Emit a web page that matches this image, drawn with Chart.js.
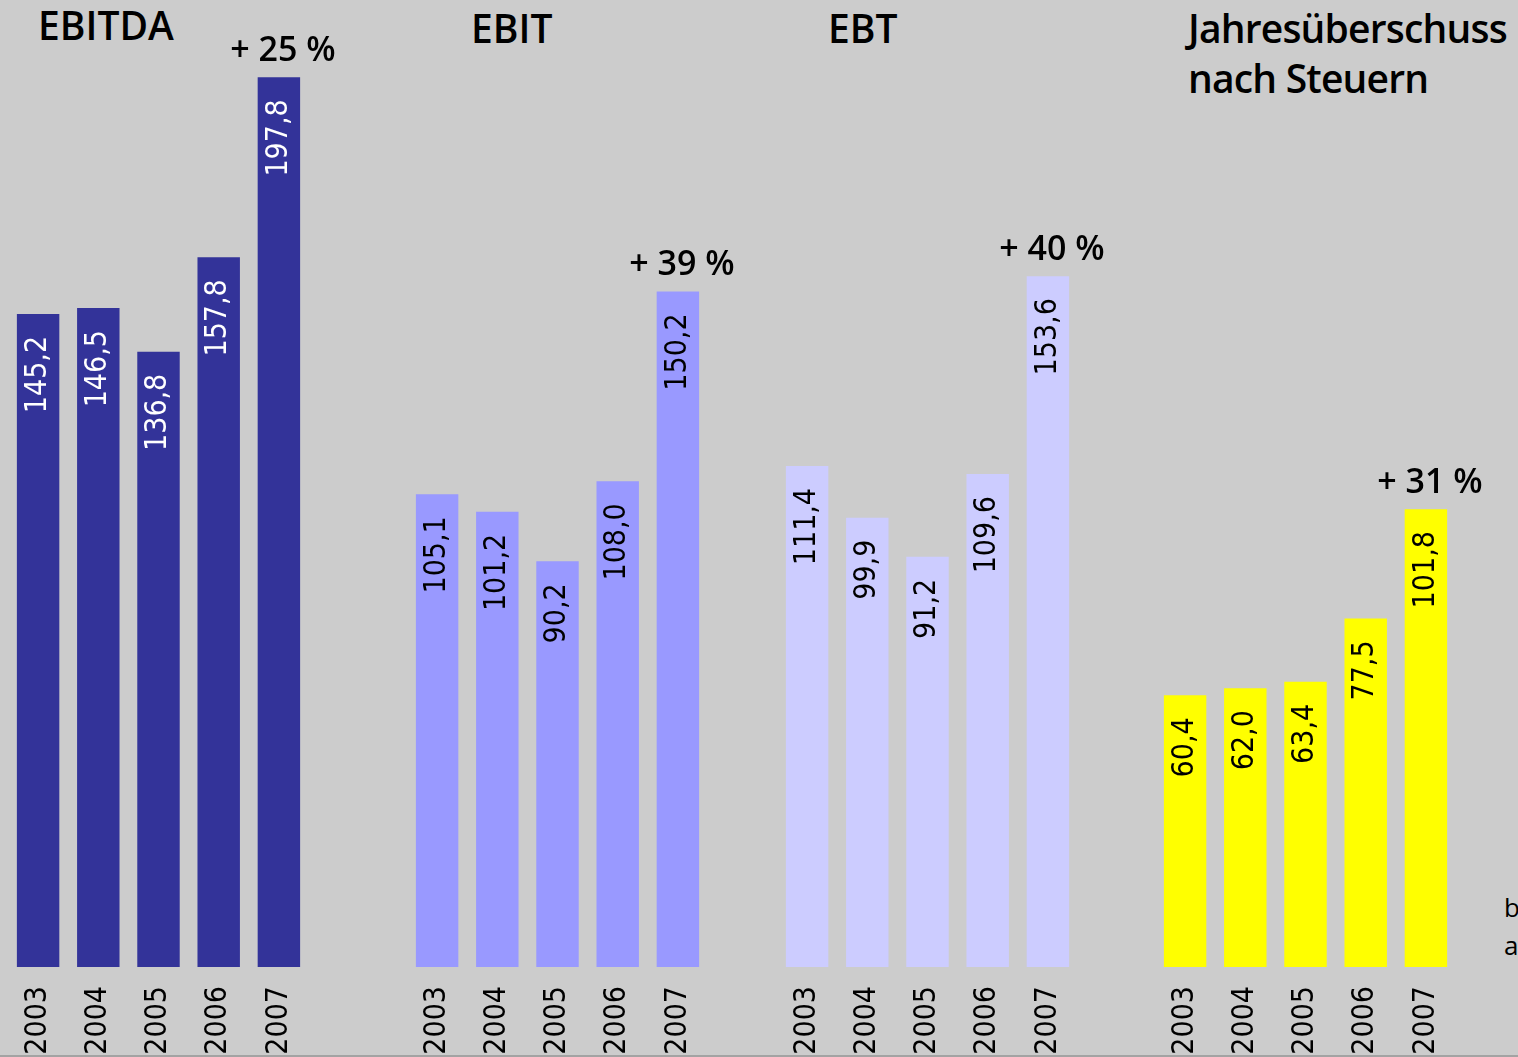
<!DOCTYPE html>
<html lang="de">
<head>
<meta charset="utf-8">
<title>Ergebnisentwicklung 2003 - 2007</title>
<script src="https://cdn.jsdelivr.net/npm/chart.js@4.4.1/dist/chart.umd.min.js"></script>
<style>
  html, body { margin: 0; padding: 0; }
  body {
    width: 1518px; height: 1057px; overflow: hidden; position: relative;
    background: #cccccc;
  }
  canvas { position: absolute; top: 0; }
  .title {
    position: absolute; font-family: "Open Sans", sans-serif; font-weight: 600;
    font-size: 39px; line-height: 50px; color: #000; white-space: pre;
  }
  .cut {
    position: absolute; left: 1504px; top: 888px; font-family: "Open Sans", sans-serif;
    font-size: 26px; line-height: 38px; color: #000; white-space: pre;
  }
  .baseline {
    position: absolute; left: 0; top: 1055px; width: 1518px; height: 2px; background: #a3a3a3;
  }
</style>
</head>
<body>

<div class="title" style="left:38px; top:0px;">EBITDA</div>
<div class="title" style="left:471px; top:3px;">EBIT</div>
<div class="title" style="left:828px; top:3px;">EBT</div>
<div class="title" style="left:1188px; top:3px; letter-spacing:-0.8px;">Jahresüberschuss
nach Steuern</div>
<div class="cut">b
a</div>

<canvas id="c1" width="381" height="1057" style="left:-12px"></canvas>
<canvas id="c2" width="381" height="1057" style="left:387px"></canvas>
<canvas id="c3" width="381" height="1057" style="left:757px"></canvas>
<canvas id="c4" width="381" height="1057" style="left:1135px"></canvas>
<div class="baseline"></div>

<script>
// Daten (Mio. EUR)
const years = ['2003', '2004', '2005', '2006', '2007'];
const ebitda = [145.2, 146.5, 136.8, 157.8, 197.8];
const ebit = [105.1, 101.2, 90.2, 108.0, 150.2];
const ebt = [111.4, 99.9, 91.2, 109.6, 153.6];
const jahresueberschuss = [60.4, 62.0, 63.4, 77.5, 101.8];
const growth = ['+ 25 %', '+ 39 %', '+ 40 %', '+ 31 %'];

const labelFont = '"DejaVu Sans Condensed", "DejaVu Sans", sans-serif';

// Ein Diagramm pro Kennzahl, gleiche Y-Skala
const panels = [
    { id: 'c1', data: ebitda, color: '#333399', text: '#ffffff', growth: growth[0] },
    { id: 'c2', data: ebit, color: '#9999ff', text: '#000000', growth: growth[1] },
    { id: 'c3', data: ebt, color: '#ccccff', text: '#000000', growth: growth[2] },
    { id: 'c4', data: jahresueberschuss, color: '#ffff00', text: '#000000', growth: growth[3] }
];

// Werte senkrecht in die Balken schreiben + Wachstum über dem letzten Balken
const barLabels = {
    id: 'barLabels',
    afterDatasetsDraw(chart, args, opts) {
        const ctx = chart.ctx;
        const meta = chart.getDatasetMeta(0);
        const values = chart.data.datasets[0].data;

        ctx.save();
        ctx.font = '30px ' + labelFont;
        ctx.fillStyle = opts.color;
        ctx.textAlign = 'right';
        ctx.textBaseline = 'middle';
        meta.data.forEach((bar, i) => {
            ctx.save();
            ctx.translate(bar.x, bar.y + 22);
            ctx.rotate(-Math.PI / 2);
            ctx.fillText(values[i].toFixed(1).replace('.', ','), 0, 0);
            ctx.restore();
        });

        const last = meta.data[meta.data.length - 1];
        ctx.font = '600 34px "Open Sans", sans-serif';
        ctx.fillStyle = '#000';
        ctx.textAlign = 'center';
        ctx.textBaseline = 'alphabetic';
        ctx.fillText(opts.growth, last.x + 4, last.y - 16);
        ctx.restore();
    }
};

panels.forEach(p => {
    new Chart(document.getElementById(p.id), {
        type: 'bar',
        data: {
            labels: years,
            datasets: [{
                data: p.data,
                backgroundColor: p.color,
                borderWidth: 0,
                categoryPercentage: 1,
                barPercentage: 0.705
            }]
        },
        options: {
            responsive: false,
            animation: false,
            devicePixelRatio: 1,
            layout: { padding: { left: 20, right: 60, top: 0, bottom: 0 } },
            scales: {
                x: {
                    grid: { display: false },
                    border: { display: false },
                    ticks: {
                        color: '#000',
                        font: { family: labelFont, size: 30 },
                        minRotation: 90,
                        maxRotation: 90,
                        autoSkip: false,
                        padding: 11
                    },
                    afterFit: (scale) => { scale.height = 90; }
                },
                y: { display: false, min: 0, max: 215 }
            },
            plugins: {
                legend: { display: false },
                tooltip: { enabled: false },
                barLabels: { color: p.text, growth: p.growth }
            }
        },
        plugins: [barLabels]
    });
});
</script>
</body>
</html>
